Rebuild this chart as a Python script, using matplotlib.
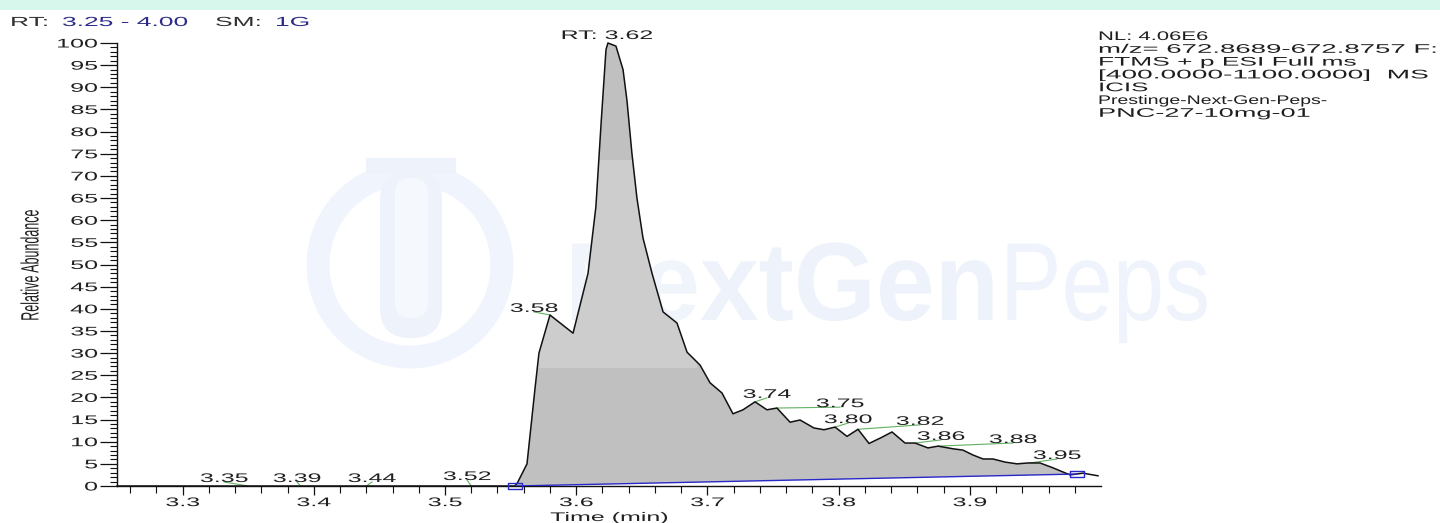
import numpy as np
import matplotlib
matplotlib.use("Agg")
import matplotlib.pyplot as plt
import matplotlib.patheffects as pe
from matplotlib.transforms import Affine2D
from matplotlib.path import Path
from matplotlib.patches import Rectangle, Circle, FancyBboxPatch
from matplotlib.ticker import FixedLocator, FixedFormatter

plt.rcParams['font.family'] = ['Liberation Sans', 'DejaVu Sans']

# ---------------- data ----------------
time_min = np.array([
    3.2500, 3.5530, 3.5550, 3.5625, 3.5686, 3.5716, 3.5800, 3.5976, 3.6090,
    3.6150, 3.6190, 3.6227, 3.6242, 3.6303, 3.6357, 3.6387, 3.6425, 3.6463,
    3.6509, 3.6578, 3.6662, 3.6768, 3.6845, 3.6944, 3.7020, 3.7111, 3.7195,
    3.7271, 3.7363, 3.7454, 3.7530, 3.7630, 3.7706, 3.7812, 3.7889, 3.7973,
    3.8064, 3.8148, 3.8232, 3.8323, 3.8407, 3.8506, 3.8582, 3.8681, 3.8758,
    3.8872, 3.8948, 3.9024, 3.9101, 3.9177, 3.9268, 3.9360, 3.9444, 3.9535,
    3.9634, 3.9764, 3.9863, 3.9977])
rel_abundance = np.array([
    0.0, 0.0, 0.6, 5.0, 22.0, 30.0, 38.6, 34.5, 48.0,
    63.0, 82.0, 98.5, 100.0, 99.3, 94.0, 87.0, 75.0, 65.0,
    56.0, 48.0, 39.3, 36.8, 30.2, 27.3, 23.3, 21.0, 16.3,
    17.2, 19.0, 17.2, 17.6, 14.4, 14.9, 13.1, 12.7, 13.3,
    11.2, 12.8, 9.6, 10.9, 12.2, 9.7, 9.7, 8.6, 9.0,
    8.4, 8.1, 7.0, 6.1, 6.1, 5.4, 5.0, 5.2, 5.2,
    4.1, 2.5, 2.9, 2.3])

baseline_time = np.array([3.5533, 3.9817])
baseline_abund = np.array([0.0, 2.7])

peak_labels = ['3.35', '3.39', '3.44', '3.52', '3.58', 'RT: 3.62', '3.74',
               '3.75', '3.80', '3.82', '3.86', '3.88', '3.95']
peak_apex_time = [3.350, 3.390, 3.440, 3.520, 3.580, 3.6242, 3.7363,
                  3.7530, 3.7973, 3.8148, 3.8582, 3.8758, 3.9460]

x_major_ticks = [3.3, 3.4, 3.5, 3.6, 3.7, 3.8, 3.9]
x_tick_labels = ['3.3', '3.4', '3.5', '3.6', '3.7', '3.8', '3.9']
y_major_ticks = list(range(0, 101, 5))
y_tick_labels = [str(v) for v in y_major_ticks]

header_parts = ['RT:', '3.25 - 4.00', 'SM:', '1G']
info_lines = ['NL: 4.06E6', 'm/z= 672.8689-672.8757 F:', 'FTMS + p ESI Full ms',
              '[400.0000-1100.0000]  MS', 'ICIS', 'Prestinge-Next-Gen-Peps-',
              'PNC-27-10mg-01']
x_label = 'Time (min)'
y_label = 'Relative Abundance'
watermark_parts = ['NextGen', 'Peps']

# ---------------- layout (label anchors, pixel positions) ----------------
label_anchor_t = [3.3316, 3.3872, 3.4444, 3.5168, 3.5678, 3.6235, 3.7454,
                  3.8011, 3.8072, 3.8620, 3.8780, 3.9329, 3.9665]
label_anchor_i = [0.9, 0.9, 0.9, 1.35, 39.3, 100.9, 19.9,
                  17.8, 14.2, 13.8, 10.4, 9.7, 6.1]
header_x = [10, 62, 215, 275]
header_colors = ['#303030', '#2b2b88', '#303030', '#2b2b88']
info_right_px = [1208, 1437, 1357, 1430, 1148, 1327, 1310]

W, H = 1440, 523
SX = 2.0


class HStretch(pe.AbstractPathEffect):
    """Stretch glyphs horizontally (screen x) around an anchor."""
    def __init__(self, sx, anchor='left'):
        super().__init__()
        self.sx = sx
        self.anchor = anchor

    def draw_path(self, renderer, gc, tpath, affine, rgbFace=None):
        v = tpath.vertices
        c = tpath.codes
        if c is not None and len(v):
            v = v[c != Path.CLOSEPOLY]
        if len(v) == 0:
            return
        d = affine.transform(v)
        if self.anchor == 'left':
            a = affine.transform(np.array([[0.0, 0.0]]))[0, 0]
        elif self.anchor == 'right':
            a = d[:, 0].max()
        else:
            a = 0.5 * (d[:, 0].min() + d[:, 0].max())
        t = affine + Affine2D().translate(-a, 0).scale(self.sx, 1.0).translate(a, 0)
        renderer.draw_path(gc, tpath, t, rgbFace)


fig = plt.figure(figsize=(W / 100, H / 100), dpi=100)
pix = Affine2D().scale(1, -1).translate(0, H)   # pixel coords, y downward

# top band
fig.add_artist(Rectangle((0, 0), W, 10, transform=pix, facecolor='#d7f6ec',
                         edgecolor='none', zorder=-5))

# watermark (behind)
fig.add_artist(Circle((410, 265), 92, transform=pix, facecolor='none',
                      edgecolor='#f0f4fc', lw=16.5, zorder=-4))
fig.add_artist(FancyBboxPatch((380, 170), 62, 168, transform=pix,
                              boxstyle='round,pad=0,rounding_size=30',
                              facecolor='#edf2fb', edgecolor='none', zorder=-3))
fig.add_artist(Rectangle((366, 158), 90, 16, transform=pix, facecolor='#edf2fb',
                         edgecolor='none', zorder=-3))
fig.add_artist(FancyBboxPatch((395, 178), 33, 140, transform=pix,
                              boxstyle='round,pad=0,rounding_size=16',
                              facecolor='#f5f8fd', edgecolor='none', zorder=-2))
t1 = fig.text(565, 320, watermark_parts[0], transform=pix, fontsize=80,
              fontweight='bold', color='#edf2fb', va='baseline', ha='left',
              zorder=-3)
t1.set_path_effects([HStretch(0.95, 'left')])
t2 = fig.text(1000, 320, watermark_parts[1], transform=pix, fontsize=80,
              color='#eff3fc', va='baseline', ha='left', zorder=-3)
t2.set_path_effects([HStretch(0.83, 'left')])

# main axes
ax = fig.add_axes([117 / W, 1 - 486 / H, (1101 - 117) / W, (486 - 43) / H])
ax.patch.set_visible(False)
ax.set_xlim(3.25, 4.00)
ax.set_ylim(0, 100)
for s in ('top', 'right'):
    ax.spines[s].set_visible(False)
for s in ('left', 'bottom'):
    ax.spines[s].set_linewidth(1.0)
    ax.spines[s].set_color('#111111')

# filled peak area between trace and baseline
b0, b1 = baseline_time
m = (time_min > b0) & (time_min < b1)
xs = np.concatenate([[b0], time_min[m], [b1]])
ys_tr = np.interp(xs, time_min, rel_abundance)
ys_bl = np.interp(xs, baseline_time, baseline_abund)
ax.fill_between(xs, ys_bl, ys_tr, facecolor='#c0c0c0', edgecolor='none', zorder=1)

# watermark-lightened patch over the fill
ax.add_patch(Rectangle((537, 160), 160, 208, transform=pix, facecolor='white',
                       edgecolor='none', alpha=0.22, zorder=1.5))

# leaders
for lab, at, lt, li in zip(peak_labels, peak_apex_time, label_anchor_t, label_anchor_i):
    if lab.startswith('RT'):
        continue
    ai = np.interp(at, time_min, rel_abundance)
    ax.plot([at, lt], [ai, li], color='#62b062', lw=0.8, zorder=2.5, clip_on=False)

# trace
ax.plot(time_min, rel_abundance, color='#111111', lw=1.1, zorder=3, clip_on=False)

# baseline with end markers
ax.plot(baseline_time, baseline_abund, color='#2828c8', lw=1.0, zorder=3.5)
rect_marker = Path([(-1, -0.5), (1, -0.5), (1, 0.5), (-1, 0.5), (-1, -0.5)],
                   [Path.MOVETO, Path.LINETO, Path.LINETO, Path.LINETO, Path.CLOSEPOLY])
ax.plot(baseline_time, baseline_abund, ls='none', marker=rect_marker, ms=9.5,
        mfc='none', mec='#2828c8', mew=1.0, zorder=4, clip_on=False)

# peak labels
for lab, lt, li in zip(peak_labels, label_anchor_t, label_anchor_i):
    t = ax.text(lt, li, lab, ha='center', va='baseline', fontsize=9,
                color='#202020', zorder=5, clip_on=False)
    t.set_path_effects([HStretch(SX, 'center')])

# ticks
ax.xaxis.set_major_locator(FixedLocator(x_major_ticks))
ax.xaxis.set_major_formatter(FixedFormatter(x_tick_labels))
ax.xaxis.set_minor_locator(FixedLocator(np.round(np.arange(3.26, 3.99, 0.02), 2)))
ax.yaxis.set_major_locator(FixedLocator(y_major_ticks))
ax.yaxis.set_major_formatter(FixedFormatter(y_tick_labels))
ax.yaxis.set_minor_locator(FixedLocator(np.arange(0, 101, 1)))
ax.tick_params(axis='y', which='major', direction='out', length=12, width=0.9,
               pad=2, labelsize=9, color='#111111', labelcolor='#202020')
ax.tick_params(axis='y', which='minor', direction='out', length=5, width=0.8,
               color='#111111')
ax.tick_params(axis='x', which='major', direction='out', length=6.5, width=0.9,
               pad=1.5, labelsize=9, color='#111111', labelcolor='#202020')
ax.tick_params(axis='x', which='minor', direction='out', length=5, width=0.8,
               color='#111111')
for lab in ax.get_xticklabels():
    lab.set_path_effects([HStretch(SX, 'center')])
for lab in ax.get_yticklabels():
    lab.set_path_effects([HStretch(SX, 'right')])

# axis labels
ax.set_xlabel(x_label, fontsize=9, color='#202020')
ax.xaxis.label.set_va('baseline')
ax.xaxis.set_label_coords(0.5, (486 - 521) / 443)
ax.xaxis.label.set_path_effects([HStretch(SX, 'center')])
ax.set_ylabel(y_label, fontsize=9, color='#202020')
ax.yaxis.label.set_va('center')
ax.yaxis.set_label_coords((31 - 117) / 984, (486 - 265) / 443)
ax.yaxis.label.set_path_effects([HStretch(SX, 'center')])

# header
for txt, x, col in zip(header_parts, header_x, header_colors):
    t = fig.text(x, 26, txt, transform=pix, fontsize=9.5, color=col,
                 ha='left', va='baseline')
    t.set_path_effects([HStretch(SX, 'left')])

# info block: each line stretched to the width it has in the reference
renderer = fig.canvas.get_renderer()
for i, (line, xr) in enumerate(zip(info_lines, info_right_px)):
    t = fig.text(1098, 40 + 12.8 * i, line, transform=pix, fontsize=9,
                 color='#1e1e1e', ha='left', va='baseline')
    w_nat = t.get_window_extent(renderer=renderer).width
    sx = (xr - 1098) / w_nat if w_nat > 0 else SX
    t.set_path_effects([HStretch(sx, 'left')])

fig.savefig('out.png', dpi=100)
